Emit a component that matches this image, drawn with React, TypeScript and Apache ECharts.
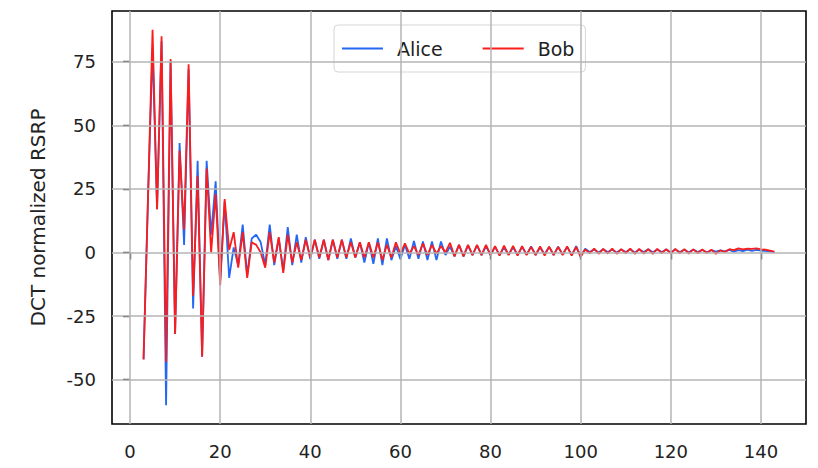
import React, { useEffect, useRef } from "react";
import * as echarts from "echarts";

const startX = 3;
const aliceValues = [
  -42, 22, 80, 17, 83, -60, 75, -32, 43, 3, 72, -22, 36, -41, 36, 7, 28, -11, 20, -10,
  2, -5, 11, -9, 5.5, 7, 4, -5, 11, -5, 5.5, -7, 10, -5, 7, -4, 6, -2.5, 5, -2.5,
  5, -3, 5, -2.5, 5, -2.5, 5.5, -2, 4, -4, 4, -4.5, 5.5, -5, 5.5, -3, 2.5, -2.5, 3, -2.5,
  4.5, -2.5, 4.3, -3, 4.3, -3, 4.3, -1, 2.3, -1.5, 3, -1.5, 2.8, -1, 2.8, -1, 2.5, -1, 2.2, -1,
  2, -0.8, 2, -1, 2.2, -0.8, 2.4, -1, 2, -0.6, 2.2, -1, 2.3, -0.8, 2.2, -1, 2.5, -1.5, 1.5, 0.2,
  1.2, 0, 1.3, 0.2, 1.2, 0, 1.2, 0.2, 1.3, 0, 1.2, 0.2, 1.3, 0.1, 1.2, 0.2, 1.2, 0, 1.2, 0.2,
  1.1, 0.1, 1.2, 0.2, 1, 0.1, 0.9, 0.3, 0.8, 0.4, 1, 0.3, 0.9, 0.5, 1.1, 0.6, 1, 0.7, 0.6, 0.4,
  0,
];
const bobValues = [
  -42, 22, 87.5, 17, 85, -43, 76, -32, 40, 9, 74, -17, 30, -41, 33, 0, 23, -13, 21, 1,
  8, -6, 8, -10, 4, 3, 0, -6, 8, -4, 6, -8, 7, -4, 4, -3, 5, -2, 5, -2,
  5, -3, 5, -2, 5, -2, 4, -2, 4, -2, 4, -2, 4, -3, 3, -2, 4, -0.5, 3.6, -0.5,
  2.5, -1, 3.5, -1, 3, -0.5, 2.5, 0, 3.8, -1.5, 3, -1.5, 3, -1, 3, -1, 3, -1, 2.5, -1.2,
  2.7, -1, 2.6, -1.2, 2.5, -1, 2.2, -1, 2.4, -1.2, 2.3, -1, 2.2, -1, 2.4, -1.2, 2.2, -1.7, 1.2, -0.3,
  1.5, -0.5, 1.4, -0.4, 1.5, -0.5, 1.3, -0.3, 1.5, -0.5, 1.4, -0.4, 1.3, -0.5, 1.4, -0.3, 1.3, -0.4, 1.4, -0.3,
  1.3, -0.4, 1.2, -0.3, 1.2, -0.2, 1.1, -0.5, 0.8, 0.2, 1.3, 0.9, 1.6, 1.2, 1.5, 1.4, 1.6, 1.2, 1.1, 0.7,
  0.3,
];
const xTicks = [0, 20, 40, 60, 80, 100, 120, 140];
const yTicks = [-50, -25, 0, 25, 50, 75];
const seriesNames = ["Alice", "Bob"];

const FONT = "'DejaVu Sans', sans-serif";

export default function App() {
  const ref = useRef<HTMLDivElement>(null);
  useEffect(() => {
    if (!ref.current) return;
    const chart = echarts.init(ref.current, undefined, { renderer: "svg" });
    const toPairs = (vals: number[]) => vals.map((v, i) => [startX + i, v]);
    const gridColor = "#b4b4b4";
    chart.setOption({
      animation: false,
      backgroundColor: "#ffffff",
      grid: {
        left: 112,
        right: 12,
        top: 11,
        bottom: 44,
        show: true,
        borderColor: "#000",
        borderWidth: 1.6,
        backgroundColor: "transparent",
      },
      legend: {
        data: seriesNames,
        left: 334,
        top: 25,
        orient: "horizontal",
        icon: "rect",
        itemWidth: 41,
        itemHeight: 2,
        itemGap: 40,
        padding: [8, 11, 8, 8],
        backgroundColor: "rgba(255,255,255,0.85)",
        borderColor: "#d6d6d6",
        borderWidth: 1,
        borderRadius: 4,
        textStyle: {
          fontFamily: FONT,
          fontSize: 19,
          color: "#222",
          padding: [0, 0, 0, 9],
          lineHeight: 31,
        },
      },
      xAxis: {
        type: "value",
        min: -4,
        max: 150,
        axisLine: { show: false },
        axisTick: {
          show: true,
          customValues: xTicks,
          length: 7,
          lineStyle: { color: "#000", width: 1.3 },
        },
        axisLabel: {
          customValues: xTicks,
          fontFamily: FONT,
          fontSize: 18,
          color: "#222",
          margin: 18,
        },
        splitLine: { show: false },
      },
      yAxis: {
        type: "value",
        min: -67.4,
        max: 94.9,
        name: "DCT normalized RSRP",
        nameLocation: "middle",
        nameRotate: 90,
        nameGap: 64,
        nameTextStyle: { fontFamily: FONT, fontSize: 20, color: "#222" },
        axisLine: { show: false },
        axisTick: {
          show: true,
          customValues: yTicks,
          length: 7,
          lineStyle: { color: "#000", width: 1.3 },
        },
        axisLabel: {
          customValues: yTicks,
          fontFamily: FONT,
          fontSize: 18,
          color: "#222",
          margin: 16,
        },
        splitLine: { show: false },
      },
      series: [
        {
          name: "gridlines",
          type: "line",
          data: [],
          z: 1,
          silent: true,
          markLine: {
            silent: true,
            symbol: "none",
            label: { show: false },
            animation: false,
            lineStyle: { color: gridColor, width: 1.5, type: "solid" },
            data: [
              ...xTicks.map((v) => ({ xAxis: v })),
              ...yTicks.map((v) => ({ yAxis: v })),
            ],
          },
        },
        {
          name: "Alice",
          type: "line",
          data: toPairs(aliceValues),
          showSymbol: false,
          symbol: "none",
          z: 3,
          lineStyle: { color: "#2467f2", width: 1.8 },
          itemStyle: { color: "#2467f2" },
        },
        {
          name: "Bob",
          type: "line",
          data: toPairs(bobValues),
          showSymbol: false,
          symbol: "none",
          z: 4,
          lineStyle: { color: "#fb1c1c", width: 1.8 },
          itemStyle: { color: "#fb1c1c" },
        },
      ],
    });
    return () => chart.dispose();
  }, []);
  return (
    <div
      ref={ref}
      style={{ position: "fixed", left: 0, top: 0, width: 818, height: 468 }}
    />
  );
}
